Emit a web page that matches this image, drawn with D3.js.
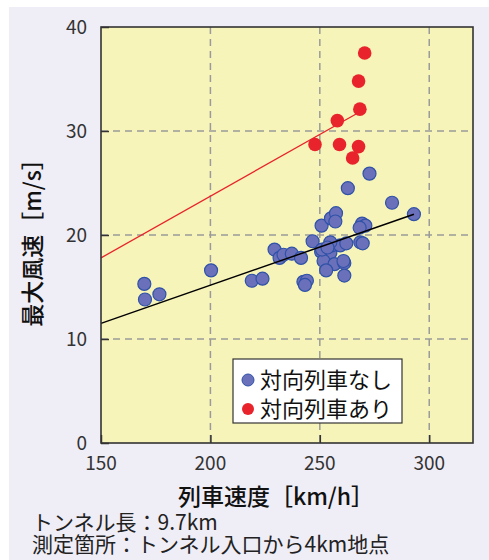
<!DOCTYPE html>
<html>
<head>
<meta charset="utf-8">
<script src="https://cdn.jsdelivr.net/npm/d3@7"></script>
<style>
  html, body { margin: 0; padding: 0; background: #ffffff; }
  svg { display: block; font-family: "Noto Sans CJK JP", "Noto Sans", sans-serif; }
</style>
</head>
<body>
<svg id="chart" width="489" height="560"></svg>
<script>
// Train speed [km/h] vs. max wind speed [m/s] in the tunnel
const noOncomingSpeed = [169.8, 170.1, 176.7, 200.3, 218.9, 223.8, 229.3, 231.6, 233.4, 237.2,
  241.4, 242.5, 244.1, 243.2, 246.7, 250.8, 255.1, 257.4, 257.1, 250.6,
  254.8, 255.5, 259.3, 262.1, 251.7, 256.7, 252.9, 261.2, 261.2, 272.7,
  262.8, 283.0, 293.0, 269.3, 270.8, 268.2, 268.5, 269.6, 254.8, 251.0,
  253.5, 260.8];
const noOncomingWind = [15.3, 13.8, 14.3, 16.6, 15.6, 15.8, 18.6, 17.8, 18.1, 18.2,
  17.8, 15.5, 15.6, 15.2, 19.4, 20.9, 21.6, 22.1, 21.3, 18.4,
  18.3, 19.0, 19.0, 19.2, 17.5, 17.2, 16.6, 17.3, 16.1, 25.9,
  24.5, 23.1, 22.0, 21.1, 20.9, 20.7, 19.3, 19.2, 19.3, 18.6,
  18.8, 17.5];
const oncomingSpeed = [270.5, 267.7, 268.3, 258.0, 247.8, 259.0, 267.7, 265.0];
const oncomingWind  = [37.5, 34.8, 32.1, 31.0, 28.7, 28.7, 28.5, 27.4];

// Fitted trend lines (start and end of each)
const trendNoOncomingSpeed = [150, 293];
const trendNoOncomingWind  = [11.5, 22.0];
const trendOncomingSpeed   = [150, 268];
const trendOncomingWind    = [17.8, 31.8];

const xTicks = [150, 200, 250, 300];
const yTicks = [0, 10, 20, 30, 40];
const legendLabels = ["対向列車なし", "対向列車あり"];
const xTitle = "列車速度［km/h］";
const yTitle = "最大風速［m/s］";
const notes = ["トンネル長：9.7km", "測定箇所：トンネル入口から4km地点"];

const colors = {
  panel: "#efedf6",
  plot: "#f7f4ba",
  blueFill: "#6b70ba",
  blueStroke: "#2f52a8",
  red: "#e8232b",
  grid: "#9a9a9a",
  axis: "#333333",
  text: "#333333"
};

const svg = d3.select("#chart");
const W = 489, H = 560;
const plot = { left: 101, right: 473, top: 27, bottom: 443 };

svg.append("rect").attr("x", 9).attr("y", 7).attr("width", W - 9).attr("height", H - 7)
  .attr("fill", colors.panel);

const x = d3.scaleLinear().domain([150, 320]).range([plot.left, plot.right]);
const y = d3.scaleLinear().domain([0, 40]).range([plot.bottom, plot.top]);

svg.append("rect")
  .attr("x", plot.left).attr("y", plot.top)
  .attr("width", plot.right - plot.left).attr("height", plot.bottom - plot.top)
  .attr("fill", colors.plot);

// dashed grid
const grid = svg.append("g");
grid.selectAll("line.vx").data(xTicks.filter(d => d > 150)).join("line")
  .attr("x1", d => x(d)).attr("x2", d => x(d))
  .attr("y1", plot.top).attr("y2", plot.bottom)
  .attr("stroke", colors.grid).attr("stroke-width", 1.5).attr("stroke-dasharray", "7,5");
grid.selectAll("line.hy").data(yTicks.filter(d => d > 0 && d < 40)).join("line")
  .attr("x1", plot.left).attr("x2", plot.right)
  .attr("y1", d => y(d)).attr("y2", d => y(d))
  .attr("stroke", colors.grid).attr("stroke-width", 1.5).attr("stroke-dasharray", "7,5");

// axes with inward ticks
const xAxis = d3.axisTop(x).tickValues(xTicks).tickSize(8).tickFormat("");
svg.append("g").attr("transform", `translate(0,${plot.bottom})`).call(xAxis)
  .call(g => g.select(".domain").remove())
  .call(g => g.selectAll(".tick line").attr("stroke", colors.axis).attr("stroke-width", 1.5));
const yAxis = d3.axisRight(y).tickValues(yTicks).tickSize(8).tickFormat("");
svg.append("g").attr("transform", `translate(${plot.left},0)`).call(yAxis)
  .call(g => g.select(".domain").remove())
  .call(g => g.selectAll(".tick line").attr("stroke", colors.axis).attr("stroke-width", 1.5));

// tick labels
svg.append("g").selectAll("text").data(xTicks).join("text")
  .attr("x", d => x(d)).attr("y", 470)
  .attr("text-anchor", "middle").attr("font-size", 19).attr("fill", colors.text)
  .text(d => d);
svg.append("g").selectAll("text").data(yTicks).join("text")
  .attr("x", 87).attr("y", d => y(d) + 7)
  .attr("text-anchor", "end").attr("font-size", 19).attr("fill", colors.text)
  .text(d => d);

// points without oncoming train
const noData = noOncomingSpeed.map((s, i) => ({ s, w: noOncomingWind[i] }));
svg.append("g").selectAll("circle").data(noData).join("circle")
  .attr("cx", d => x(d.s)).attr("cy", d => y(d.w)).attr("r", 6.5)
  .attr("fill", colors.blueFill).attr("stroke", colors.blueStroke).attr("stroke-width", 1.2);

// trend lines
const line = d3.line().x(d => x(d[0])).y(d => y(d[1]));
svg.append("path")
  .datum(trendNoOncomingSpeed.map((s, i) => [s, trendNoOncomingWind[i]]))
  .attr("d", line).attr("stroke", "#000").attr("stroke-width", 1.5).attr("fill", "none");
svg.append("path")
  .datum(trendOncomingSpeed.map((s, i) => [s, trendOncomingWind[i]]))
  .attr("d", line).attr("stroke", colors.red).attr("stroke-width", 1.3).attr("fill", "none");

// points with oncoming train
const onData = oncomingSpeed.map((s, i) => ({ s, w: oncomingWind[i] }));
svg.append("g").selectAll("circle").data(onData).join("circle")
  .attr("cx", d => x(d.s)).attr("cy", d => y(d.w)).attr("r", 6.8)
  .attr("fill", colors.red);

// plot frame
svg.append("rect")
  .attr("x", plot.left).attr("y", plot.top)
  .attr("width", plot.right - plot.left).attr("height", plot.bottom - plot.top)
  .attr("fill", "none").attr("stroke", colors.axis).attr("stroke-width", 1.6);

// legend
const lg = svg.append("g");
lg.append("rect").attr("x", 233).attr("y", 359).attr("width", 169).attr("height", 64)
  .attr("fill", "#ffffff").attr("stroke", colors.axis).attr("stroke-width", 1.2);
const legendStyles = [
  { fill: colors.blueFill, stroke: colors.blueStroke },
  { fill: colors.red, stroke: "none" }
];
legendLabels.forEach((label, i) => {
  const cy = 380 + i * 29;
  lg.append("circle").attr("cx", 248).attr("cy", cy).attr("r", 6)
    .attr("fill", legendStyles[i].fill).attr("stroke", legendStyles[i].stroke).attr("stroke-width", 1);
  lg.append("text").attr("x", 260).attr("y", cy + 8)
    .attr("font-size", 22).attr("fill", "#111").text(label);
});

// axis titles
svg.append("text").attr("x", 276).attr("y", 505)
  .attr("text-anchor", "middle").attr("font-size", 23).attr("fill", "#111").attr("font-weight", 500)
  .text(xTitle);
svg.append("text")
  .attr("transform", `translate(41,${(plot.top + plot.bottom) / 2 + 2}) rotate(-90)`)
  .attr("text-anchor", "middle").attr("font-size", 23).attr("fill", "#111").attr("font-weight", 500)
  .text(yTitle);

// notes
svg.append("g").selectAll("text").data(notes).join("text")
  .attr("x", 32).attr("y", (d, i) => 530 + i * 22)
  .attr("font-size", 21).attr("fill", "#222")
  .text(d => d);
</script>
</body>
</html>
